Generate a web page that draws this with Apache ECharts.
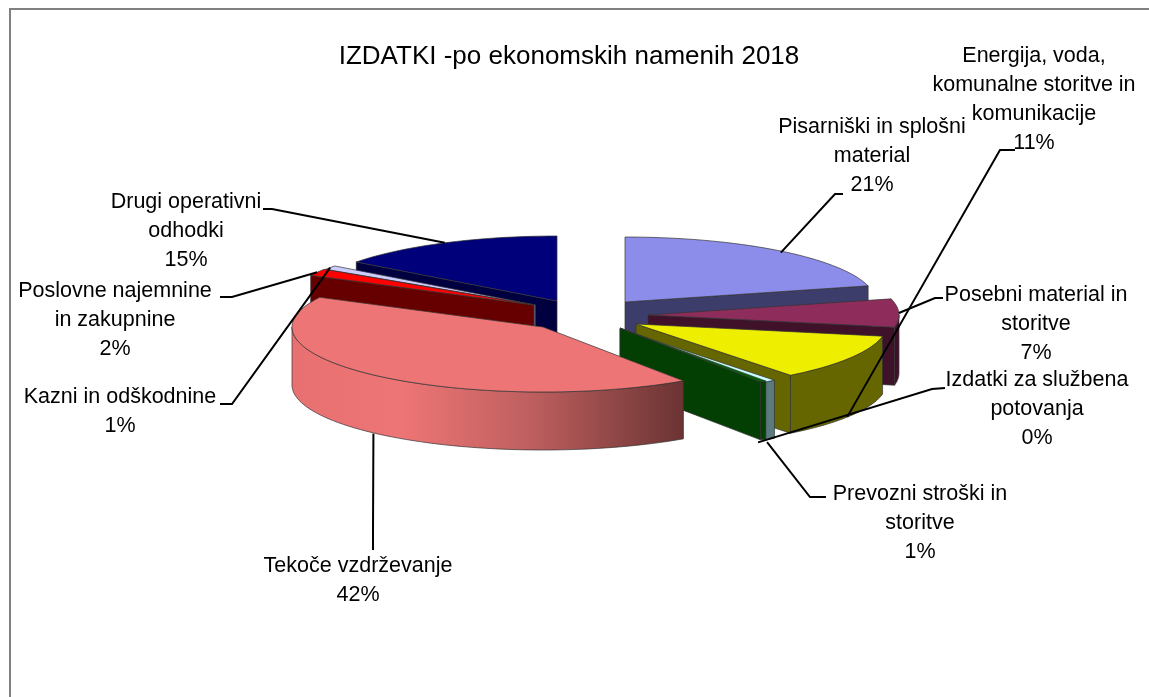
<!DOCTYPE html>
<html>
<head>
<meta charset="utf-8">
<style>
  html, body { margin: 0; padding: 0; background: #fff; }
  #chart { width: 1149px; height: 697px; }
</style>
<script src="https://cdn.jsdelivr.net/npm/echarts@6/dist/echarts.min.js"></script>
</head>
<body>
<div id="chart"></div>
<script>
const titleText = 'IZDATKI -po ekonomskih namenih 2018';

// clockwise from 12 o'clock, same order as the pie
const categories = [
  'Pisarniški in splošni\nmaterial',
  'Posebni material in\nstoritve',
  'Energija, voda,\nkomunalne storitve in\nkomunikacije',
  'Prevozni stroški in\nstoritve',
  'Izdatki za službena\npotovanja',
  'Tekoče vzdrževanje',
  'Poslovne najemnine\nin zakupnine',
  'Kazni in odškodnine',
  'Drugi operativni\nodhodki'
];
const values = [21, 7, 11.45, 0.7, 0.4, 42, 1.7, 1, 14.75];

const topColors = ['#8c8ceb', '#8e2c5c', '#eeee00', '#ccffff', '#006600', '#ee7575', '#ff0000', '#ccccff', '#00007a'];
const sideColors = ['#3d3d6b', '#3f1229', '#666600', '#5a7a80', '#033f03', '#ee7575', '#660000', '#666680', '#000040'];

// back to front
const paintOrder = [0, 8, 7, 6, 1, 2, 3, 4, 5];

// every slice is exploded on its own, [x, y] of its apex on the top face
const apex = [[625, 302], [648, 315], [636, 324], [620, 329], [620, 328], [543, 327], [534, 305], [535.5, 305], [557, 301]];
const RX = 251;
const RY = 65;
const DEPTH = 58;

// label block centre, elbow + tail of the leader, small nudge of the anchor
const labelPos = [
  { x: 872, y: 156, elbow: [835, 194], tail: [843, 194], nudge: [2, 2] },
  { x: 1036, y: 324, elbow: [935, 298], tail: [943, 298], nudge: [0, 0] },
  { x: 1034, y: 100, elbow: [1000, 150], tail: [1015, 150], nudge: [-3, 1] },
  { x: 920, y: 523, elbow: [810, 497], tail: [826, 497], nudge: [-3, 3] },
  { x: 1037, y: 409, elbow: [932, 389], tail: [945, 388], nudge: [-5, 3] },
  { x: 358, y: 581, elbow: [373, 530], tail: [373, 550], nudge: [-3, 0] },
  { x: 115, y: 320, elbow: [232, 297], tail: [220, 297], nudge: [0, 0] },
  { x: 120, y: 412, elbow: [232, 404], tail: [220, 404], nudge: [0, 0] },
  { x: 186, y: 231, elbow: [272, 209], tail: [263, 209], nudge: [0, 0] }
];

const total = values.reduce((a, b) => a + b, 0);
let sum = 0;
const startAngle = [];
const endAngle = [];
values.forEach((v, i) => {
  startAngle[i] = sum / total * 360;
  sum += v;
  endAngle[i] = sum / total * 360;
});

function rimPoint(i, deg, dy) {
  const a = deg * Math.PI / 180;
  return [apex[i][0] + RX * Math.sin(a), apex[i][1] - RY * Math.cos(a) + (dy || 0)];
}

function arcPoints(i, from, to, dy) {
  const pts = [];
  const n = Math.max(2, Math.ceil((to - from) / 2));
  for (let k = 0; k <= n; k++) {
    pts.push(rimPoint(i, from + (to - from) * k / n, dy));
  }
  return pts;
}

const outline = { stroke: '#333', lineWidth: 0.7 };

function renderSlice(params, api) {
  const i = api.value(0);
  const a0 = startAngle[i];
  const a1 = endAngle[i];
  const children = [];

  // outer wall, only the front half of the rim shows
  const w0 = Math.max(a0, 90);
  const w1 = Math.min(a1, 270);
  if (w1 > w0) {
    const wall = arcPoints(i, w0, w1, 0).concat(arcPoints(i, w0, w1, DEPTH).reverse());
    let fill = sideColors[i];
    if (i === 5) {
      // big slice gets the shaded wall
      fill = new echarts.graphic.LinearGradient(0, 0, 1, 0, [
        { offset: 0, color: '#e87070' },
        { offset: 0.28, color: '#ee7575' },
        { offset: 0.6, color: '#c06060' },
        { offset: 1, color: '#6b3333' }
      ]);
    }
    children.push({ type: 'polygon', shape: { points: wall }, style: Object.assign({ fill: fill }, outline) });
  }

  // radial face towards the viewer
  const faceAngle = a1 < 180 ? a1 : (a0 > 180 ? a0 : null);
  if (faceAngle !== null) {
    const p = rimPoint(i, faceAngle, 0);
    const c = apex[i];
    children.push({
      type: 'polygon',
      shape: { points: [c, p, [p[0], p[1] + DEPTH], [c[0], c[1] + DEPTH]] },
      style: Object.assign({ fill: sideColors[i] }, outline)
    });
  }

  const top = [apex[i]].concat(arcPoints(i, a0, a1, 0));
  children.push({ type: 'polygon', shape: { points: top }, style: Object.assign({ fill: topColors[i] }, outline) });

  return { type: 'group', children: children };
}

function renderLabel(params, api) {
  const i = api.value(0);
  const mid = (startAngle[i] + endAngle[i]) / 2;
  const pos = labelPos[i];
  // back half anchors on the top rim, front half on the lower edge of the wall
  const onFront = mid > 90 && mid < 270;
  const r = rimPoint(i, mid, onFront ? DEPTH : 0);
  const anchor = [r[0] + pos.nudge[0], r[1] + pos.nudge[1]];
  const pct = Math.round(api.value(1) / total * 100) + '%';
  return {
    type: 'group',
    children: [
      {
        type: 'polyline',
        shape: { points: [anchor, pos.elbow, pos.tail] },
        style: { fill: 'none', stroke: '#000', lineWidth: 2 }
      },
      {
        type: 'text',
        style: {
          text: categories[i] + '\n' + pct,
          x: pos.x,
          y: pos.y,
          align: 'center',
          verticalAlign: 'middle',
          fill: '#000',
          font: '21.5px "Liberation Sans"',
          lineHeight: 29
        }
      }
    ]
  };
}

const chart = echarts.init(document.getElementById('chart'));
chart.setOption({
  animation: false,
  backgroundColor: '#fff',
  title: {
    text: titleText,
    left: 564,
    top: 52,
    textAlign: 'center',
    textVerticalAlign: 'middle',
    textStyle: { fontFamily: 'Liberation Sans', fontSize: 26, fontWeight: 'normal', color: '#000' }
  },
  graphic: [
    { type: 'line', shape: { x1: 10, y1: 8, x2: 10, y2: 697 }, style: { stroke: '#808080', lineWidth: 2 } },
    { type: 'line', shape: { x1: 9, y1: 9, x2: 1149, y2: 9 }, style: { stroke: '#808080', lineWidth: 2 } }
  ],
  series: [
    {
      type: 'custom',
      coordinateSystem: 'none',
      renderItem: renderSlice,
      data: paintOrder.map(i => [i, values[i]]),
      silent: true,
      z: 2
    },
    {
      type: 'custom',
      coordinateSystem: 'none',
      renderItem: renderLabel,
      data: values.map((v, i) => [i, v]),
      silent: true,
      z: 3
    }
  ]
});
</script>
</body>
</html>
